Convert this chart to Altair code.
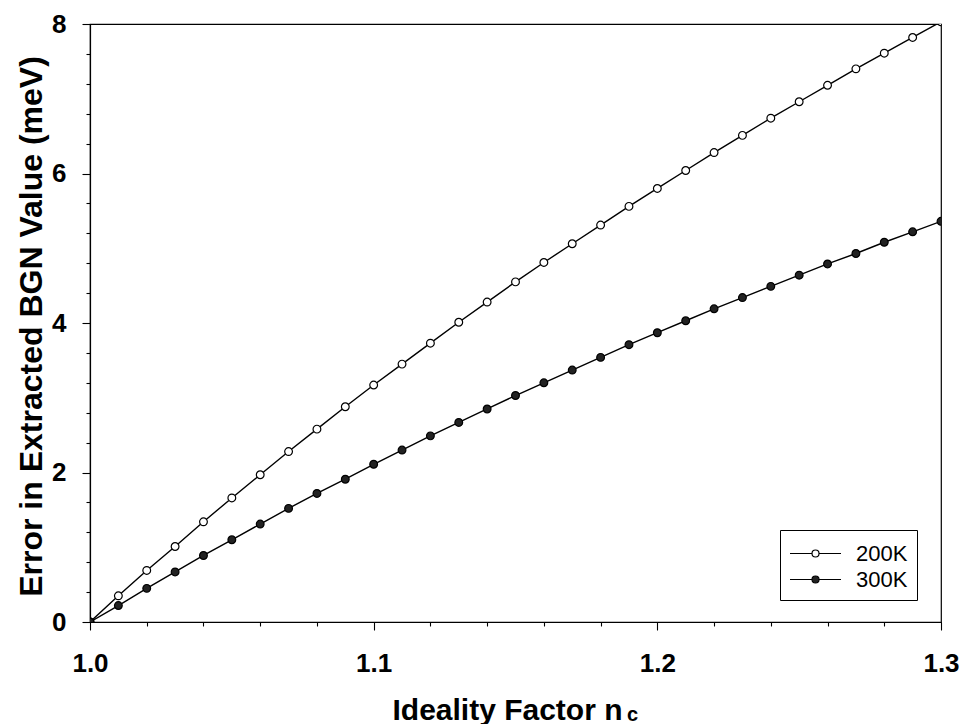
import altair as alt
import pandas as pd

# ---- data ----
n_c = [1.00, 1.01, 1.02, 1.03, 1.04, 1.05, 1.06, 1.07, 1.08, 1.09, 1.10,
       1.11, 1.12, 1.13, 1.14, 1.15, 1.16, 1.17, 1.18, 1.19, 1.20,
       1.21, 1.22, 1.23, 1.24, 1.25, 1.26, 1.27, 1.28, 1.29, 1.30]
err_200K = [0.00, 0.35, 0.69, 1.01, 1.34, 1.66, 1.97, 2.28, 2.58, 2.88, 3.17,
            3.45, 3.73, 4.01, 4.28, 4.55, 4.81, 5.06, 5.31, 5.56, 5.80,
            6.04, 6.28, 6.51, 6.74, 6.96, 7.18, 7.40, 7.61, 7.82, 8.03]
err_300K = [0.00, 0.22, 0.45, 0.67, 0.89, 1.10, 1.31, 1.52, 1.72, 1.91, 2.11,
            2.30, 2.49, 2.67, 2.85, 3.03, 3.20, 3.37, 3.54, 3.71, 3.87,
            4.03, 4.19, 4.34, 4.49, 4.64, 4.79, 4.93, 5.08, 5.22, 5.36]
series_names = ["200K", "300K"]
x_ticks = [round(1.0 + 0.02 * i, 2) for i in range(16)]
y_ticks = [round(0.4 * i, 1) for i in range(21)]

df = pd.DataFrame({
    "n": n_c + n_c,
    "err": err_200K + err_300K,
    "series": [series_names[0]] * len(n_c) + [series_names[1]] * len(n_c),
})
sub_df = pd.DataFrame({"label": ["c"]})

FONT = "Liberation Sans"

x_major = "abs(datum.value*10 - round(datum.value*10)) < 1e-6"
y_major = "abs(datum.value/2 - round(datum.value/2)) < 1e-6"

x_enc = alt.X(
    "n:Q",
    scale=alt.Scale(domain=[1.0, 1.3], nice=False, zero=False),
    axis=alt.Axis(
        values=x_ticks,
        labelExpr=f"{x_major} ? format(datum.value, '.1f') : ''",
        tickSize={"condition": {"test": x_major, "value": 8}, "value": 4},
        labelPadding=20,
        labelFontSize=26,
        labelOverlap=False,
        labelFlush=False,
        title="Ideality Factor n",
        titleFontSize=30,
        titleX=417,
        titleY=97,
        titleAlign="center",
        titleBaseline="alphabetic",
    ),
)
y_enc = alt.Y(
    "err:Q",
    scale=alt.Scale(domain=[0, 8], nice=False),
    axis=alt.Axis(
        values=y_ticks,
        labelExpr=f"{y_major} ? format(datum.value, 'd') : ''",
        tickSize={"condition": {"test": y_major, "value": 8}, "value": 4},
        labelPadding=16,
        labelFontSize=26,
        labelOverlap=False,
        labelFlush=False,
        title="Error in Extracted BGN Value (meV)",
        titleFontSize=32,
        titleX=-49,
        titleY=302,
        titleAngle=-90,
        titleAlign="center",
        titleBaseline="alphabetic",
    ),
)

lines = alt.Chart(df).mark_line(color="black", strokeWidth=1.4, clip=True).encode(
    x=x_enc, y=y_enc, detail="series:N"
)

legend_path = ("M-1,0H0.63M1.15,0H2.78"
               "M0.63,0A0.26,0.26 0 1,0 1.15,0A0.26,0.26 0 1,0 0.63,0Z")

points = alt.Chart(df).mark_circle(
    stroke="black", strokeWidth=1.2, size=60, opacity=1, clip=True
).encode(
    x=x_enc,
    y=y_enc,
    fill=alt.Fill(
        "series:N",
        scale=alt.Scale(domain=series_names, range=["white", "#222222"]),
        legend=alt.Legend(
            title=None,
            orient="none",
            legendX=690,
            legendY=506,
            symbolType=legend_path,
            symbolSize=729,
            symbolStrokeColor="black",
            symbolStrokeWidth=1.2,
            labelOffset=38,
            labelFont=FONT,
            labelFontSize=22,
            labelFontWeight="normal",
            labelColor="black",
            rowPadding=0,
            padding=9,
            strokeColor="black",
            fillColor="white",
        ),
    ),
)

subscript = alt.Chart(sub_df).mark_text(
    font=FONT, fontSize=20, fontWeight="bold", color="black",
    align="left", baseline="alphabetic"
).encode(x=alt.value(537), y=alt.value(697), text="label:N")

chart = (
    alt.layer(lines, points, subscript)
    .properties(
        width=851,
        height=598,
        padding={"left": 90, "top": 24, "right": 20, "bottom": 102},
        autosize="none",
    )
    .configure_view(stroke="black", strokeWidth=1.2)
    .configure_axis(
        grid=False,
        domainColor="black",
        domainWidth=1.2,
        tickColor="black",
        tickWidth=1.1,
        labelFont=FONT,
        labelFontWeight="bold",
        labelColor="black",
        titleFont=FONT,
        titleFontWeight="bold",
        titleColor="black",
    )
)

chart.save("out.html", embed_options={"renderer": "svg", "actions": False})
